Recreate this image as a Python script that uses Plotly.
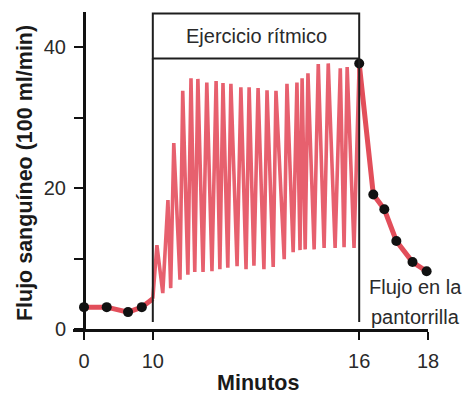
import plotly.graph_objects as go

# ---------------- data (minutes, flow in 100 ml/min) ----------------
base_t = [0.0, 3.3, 6.4, 8.4, 10.0]
base_v = [3.1, 3.1, 2.4, 3.1, 4.3]
base_dot_t = [0.0, 3.3, 6.4, 8.4]
base_dot_v = [3.1, 3.1, 2.4, 3.1]

osc_t = [10.00, 10.12, 10.29, 10.44, 10.52, 10.61, 10.79, 10.87, 11.02, 11.11,
         11.22, 11.31, 11.46, 11.57, 11.72, 11.84, 11.95, 12.04, 12.18, 12.27,
         12.45, 12.56, 12.71, 12.80, 12.94, 13.06, 13.23, 13.32, 13.50, 13.58,
         13.82, 13.90, 14.08, 14.19, 14.28, 14.34, 14.43, 14.51, 14.69, 14.81,
         14.98, 15.10, 15.30, 15.45, 15.56, 15.65, 15.85, 16.00]
osc_v = [4.3, 11.9, 5.1, 18.3, 5.8, 26.4, 7.0, 33.8, 7.7, 35.6,
         8.1, 35.5, 8.1, 35.0, 8.2, 35.2, 8.5, 34.9, 8.7, 34.8,
         8.9, 34.3, 8.5, 34.3, 9.0, 34.2, 8.5, 33.9, 8.8, 33.8,
         9.9, 34.8, 10.9, 35.0, 11.2, 35.6, 11.3, 36.3, 11.3, 37.6,
         11.5, 37.7, 11.5, 37.0, 11.6, 37.2, 11.5, 37.7]

rec_t = [16.0, 16.41, 16.73, 17.08, 17.55, 17.96]
rec_v = [37.7, 19.1, 17.0, 12.5, 9.5, 8.2]

x_tick_minutes = [0, 10, 16, 18]
x_tick_labels = ["0", "10", "16", "18"]
y_tick_vals = [0, 10, 20, 30, 40]
y_tick_labels = ["0", "", "20", "", "40"]


# broken time scale: 0-10 min compressed (1/5), after 10 min linear
def tx(t):
    return t / 5.0 if t <= 10 else 2.0 + (t - 10.0)


RED = "rgb(226,78,90)"
FONT = "Liberation Sans, Arial, sans-serif"
TXT = "#2a2a2a"

fig = go.Figure()

fig.add_trace(go.Scatter(x=[tx(t) for t in osc_t], y=osc_v, mode="lines",
                         line=dict(color="rgba(228,74,90,0.88)", width=3.6),
                         hoverinfo="skip", showlegend=False))
fig.add_trace(go.Scatter(x=[tx(t) for t in base_t], y=base_v, mode="lines",
                         line=dict(color=RED, width=5), showlegend=False))
fig.add_trace(go.Scatter(x=[tx(t) for t in rec_t], y=rec_v, mode="lines",
                         line=dict(color=RED, width=5), showlegend=False))
fig.add_trace(go.Scatter(x=[tx(t) for t in base_dot_t + rec_t],
                         y=base_dot_v + rec_v, mode="markers",
                         marker=dict(color="#111111", size=10),
                         showlegend=False, cliponaxis=False))

# exercise box and its vertical guide lines
x10, x16 = tx(10), tx(16)
line_style = dict(color="#1e1e1e", width=2)
fig.add_shape(type="rect", x0=x10, x1=x16, y0=38.4, y1=44.8,
              xref="x", yref="y", line=line_style, fillcolor="rgba(0,0,0,0)")
fig.add_shape(type="line", x0=x10, x1=x10, y0=1.0, y1=38.4,
              xref="x", yref="y", line=line_style)
fig.add_shape(type="line", x0=x16, x1=x16, y0=1.0, y1=38.4,
              xref="x", yref="y", line=line_style)

fig.add_annotation(x=(x10 + x16) / 2, y=41.6, xref="x", yref="y",
                   text="Ejercicio rítmico", showarrow=False,
                   xanchor="center", yanchor="middle",
                   font=dict(family=FONT, size=20, color=TXT))
fig.add_annotation(x=tx(17.63), y=5.9, xref="x", yref="y",
                   text="Flujo en la", showarrow=False,
                   xanchor="center", yanchor="middle",
                   font=dict(family=FONT, size=20, color=TXT))
fig.add_annotation(x=tx(17.63), y=1.7, xref="x", yref="y",
                   text="pantorrilla", showarrow=False,
                   xanchor="center", yanchor="middle",
                   font=dict(family=FONT, size=20, color=TXT))

# axis titles
fig.add_annotation(x=-0.135, y=0.492, xref="paper", yref="paper",
                   text="<b>Flujo sanguíneo (100 ml/min)</b>", textangle=-90,
                   xanchor="center", yanchor="middle",
                   showarrow=False, font=dict(family=FONT, size=21.5, color="#1a1a1a"))
fig.add_annotation(x=0.521, y=-0.170, xref="paper", yref="paper",
                   text="<b>Minutos</b>", showarrow=False,
                   xanchor="center", yanchor="middle",
                   font=dict(family=FONT, size=21.5, color="#1a1a1a"))

xmin = -0.32
fig.update_layout(
    width=463, height=395,
    margin=dict(l=73, r=35, t=12, b=66),
    paper_bgcolor="white", plot_bgcolor="white",
    font=dict(family=FONT, size=20, color=TXT),
    xaxis=dict(range=[xmin, 10.0], showgrid=False, zeroline=False,
               showline=True, linecolor="#111111", linewidth=3,
               tickvals=[tx(t) for t in x_tick_minutes], ticktext=x_tick_labels,
               ticks="outside", ticklen=8, tickwidth=2, tickcolor="#111111",
               ticklabelstandoff=4, fixedrange=True),
    yaxis=dict(range=[0, 45], showgrid=False, zeroline=False,
               showline=True, linecolor="#111111", linewidth=3,
               anchor="free", position=(0 - xmin) / (10.0 - xmin),
               tickvals=y_tick_vals, ticktext=y_tick_labels,
               ticks="outside", ticklen=9, tickwidth=2, tickcolor="#111111",
               ticklabelstandoff=4, fixedrange=True),
)

# remove the default page margin so the figure sits at the window's top-left corner
fig.write_html("out.html",
               config={"displayModeBar": False, "staticPlot": True},
               post_script="document.body.style.margin='0';"
                           "document.body.style.overflow='hidden';")
